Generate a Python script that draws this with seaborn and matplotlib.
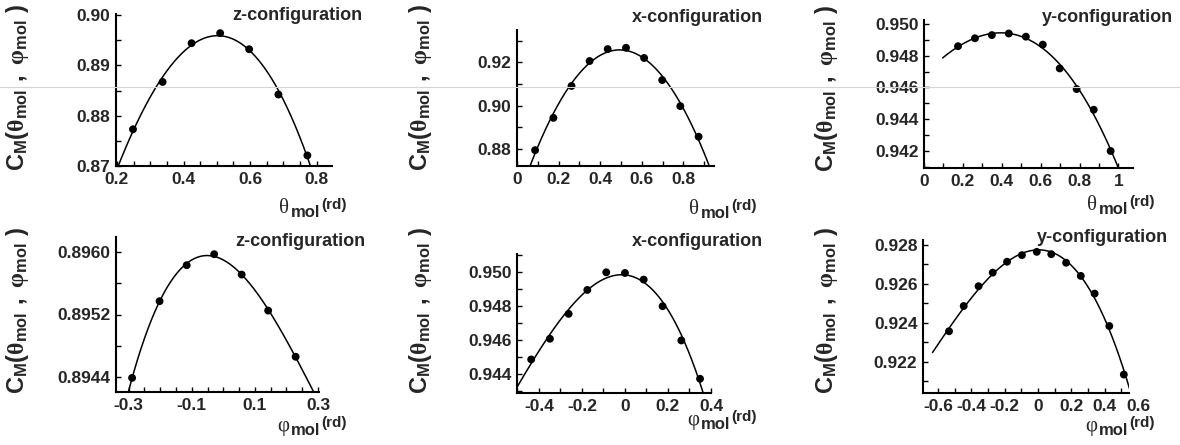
import numpy as np
import matplotlib
matplotlib.use('Agg')
import matplotlib.pyplot as plt
import seaborn as sns
from matplotlib.ticker import MultipleLocator, FixedLocator, FuncFormatter
from matplotlib.lines import Line2D

# ---- data ----
# top row: C_M versus theta_mol
z_theta = [0.248, 0.337, 0.424, 0.510, 0.597, 0.685, 0.772]
z_theta_cm = [0.8773, 0.8867, 0.8944, 0.8964, 0.8932, 0.8842, 0.8721]

x_theta = [0.087, 0.175, 0.262, 0.349, 0.436, 0.524, 0.611, 0.698, 0.785, 0.873]
x_theta_cm = [0.8795, 0.8944, 0.9091, 0.9206, 0.9261, 0.9267, 0.9220, 0.9118, 0.8998, 0.8857]

y_theta = [0.175, 0.262, 0.349, 0.436, 0.524, 0.611, 0.698, 0.785, 0.873, 0.960]
y_theta_cm = [0.9486, 0.9491, 0.9493, 0.9494, 0.9492, 0.9487, 0.9472, 0.9459, 0.9446, 0.9420]

# bottom row: C_M versus phi_mol
z_phi = [-0.289, -0.202, -0.116, -0.029, 0.058, 0.142, 0.229]
z_phi_cm = [0.89439, 0.89537, 0.89583, 0.89597, 0.89571, 0.89525, 0.89466]

x_phi = [-0.436, -0.349, -0.262, -0.175, -0.087, 0.0, 0.087, 0.175, 0.262, 0.349]
x_phi_cm = [0.94486, 0.94608, 0.94755, 0.94896, 0.9500, 0.94996, 0.94957, 0.9480, 0.94598, 0.94372]

y_phi = [-0.534, -0.446, -0.357, -0.272, -0.186, -0.097, -0.008, 0.079, 0.168, 0.256, 0.339, 0.427, 0.514]
y_phi_cm = [0.92356, 0.92486, 0.92588, 0.92658, 0.92714, 0.92748, 0.92765, 0.92753, 0.92709, 0.92641, 0.9255, 0.92383, 0.92133]

titles = ['z-configuration', 'x-configuration', 'y-configuration',
          'z-configuration', 'x-configuration', 'y-configuration']

sns.set_style('ticks')
plt.rcParams['font.family'] = ['Liberation Sans', 'DejaVu Sans']
plt.rcParams['font.weight'] = 'bold'
plt.rcParams['mathtext.fontset'] = 'custom'
plt.rcParams['mathtext.rm'] = 'Liberation Serif'
plt.rcParams['mathtext.bf'] = 'Liberation Sans:bold'
plt.rcParams['mathtext.it'] = 'Liberation Sans:bold'

W, H = 1180, 445
fig = plt.figure(figsize=(W / 100, H / 100), dpi=100)
renderer = fig.canvas.get_renderer()


def px(x, y):
    return x / W, 1 - y / H


def fmt(dec):
    def f(v, pos):
        if abs(v) < 1e-9:
            return '0'
        if abs(v - 1) < 1e-9:
            return '1'
        return f'{v:.{dec}f}'
    return FuncFormatter(f)


def xlabel(x_end, base, sym):
    # built right to left: (rd), then the mol subscript, then the greek letter
    t = fig.text(*px(x_end, base - 8), '(rd)', ha='right', va='baseline', fontsize=11, fontweight='bold')
    x = t.get_window_extent(renderer).x0 - 1
    t = fig.text(*px(x, base), 'mol', ha='right', va='baseline', fontsize=12, fontweight='bold')
    x = t.get_window_extent(renderer).x0 - 2
    fig.text(*px(x, base - 4), sym, ha='right', va='baseline', fontsize=15,
             family='Liberation Serif', fontweight='normal')


# panel layout in pixels: left, top, right, bottom
panels = [
    dict(xs=z_theta, ys=z_theta_cm, box=(116, 14, 332, 166), xlim=(0.197, 0.846), ylim=(0.8700, 0.9002),
         xmaj=[0.2, 0.4, 0.6, 0.8], xmin=0.05, ymaj=0.01, ymin=0.005, ydec=2,
         curve=(0.197, 0.80), deg=3, ylab=(18, 87), title=(362, 15), xlab=(347, 217), sym='θ'),
    dict(xs=x_theta, ys=x_theta_cm, box=(517, 30, 714, 166), xlim=(0.0, 0.947), ylim=(0.8722, 0.9349),
         xmaj=[0.0, 0.2, 0.4, 0.6, 0.8], xmin=0.1, ymaj=0.02, ymin=0.01, ydec=2,
         curve=(0.05, 0.93), deg=2, ylab=(420, 87), title=(763, 17), xlab=(757, 218), sym='θ'),
    dict(xs=y_theta, ys=y_theta_cm, box=(924, 20, 1133, 168), xlim=(0.0, 1.075), ylim=(0.94093, 0.95025),
         xmaj=[0.0, 0.2, 0.4, 0.6, 0.8, 1.0], xmin=0.1, ymaj=0.002, ymin=0.001, ydec=3,
         curve=(0.096, 1.0), deg=3, ylab=(827, 88), title=(1173, 18), xlab=(1155, 214), sym='θ'),
    dict(xs=z_phi, ys=z_phi_cm, box=(116, 237, 319, 392), xlim=(-0.34, 0.303), ylim=(0.89421, 0.89619),
         xmaj=[-0.3, -0.1, 0.1, 0.3], xmin=0.05, ymaj=0.0008, ymin=0.0004, ydec=4,
         curve=(-0.31, 0.29), deg=3, ylab=(18, 310), title=(365, 241), xlab=(347, 435), sym='φ'),
    dict(xs=x_phi, ys=x_phi_cm, box=(517, 254, 711, 393), xlim=(-0.502, 0.4), ylim=(0.94288, 0.95108),
         xmaj=[-0.4, -0.2, 0.0, 0.2, 0.4], xmin=0.1, ymaj=0.002, ymin=0.001, ydec=3,
         curve=(-0.507, 0.38), deg=3, ylab=(420, 310), title=(763, 242), xlab=(757, 429), sym='φ'),
    dict(xs=y_phi, ys=y_phi_cm, box=(923, 240, 1129, 393), xlim=(-0.69, 0.545), ylim=(0.92038, 0.92826),
         xmaj=[-0.6, -0.4, -0.2, 0.0, 0.2, 0.4], xmin=0.1, ymaj=0.002, ymin=0.001, ydec=3,
         curve=(-0.633, 0.56), deg=3, ylab=(827, 310), title=(1168, 237), xlab=(1155, 435), sym='φ'),
]

ylab_txt = r'$\mathbf{C_M(}\mathrm{θ}_{\mathbf{mol}}\mathbf{\ ,\ }\mathrm{φ}_{\mathbf{mol}}\mathbf{\ )}$'

for p, title in zip(panels, titles):
    l, t, r, b = p['box']
    x0, y0 = px(l, b)
    ax = fig.add_axes([x0, y0, (r - l) / W, (b - t) / H])

    # fitted curve from the plotted points
    coef = np.polyfit(p['xs'], p['ys'], p['deg'])
    xc = np.linspace(p['curve'][0], p['curve'][1], 300)
    sns.lineplot(x=xc, y=np.polyval(coef, xc), ax=ax, color='black', lw=1.1, sort=False)
    sns.scatterplot(x=p['xs'], y=p['ys'], ax=ax, color='black', s=32, edgecolor='none', zorder=3)

    ax.set_xlim(p['xlim'])
    ax.set_ylim(p['ylim'])
    sns.despine(ax=ax)
    for s in ['left', 'bottom']:
        ax.spines[s].set_linewidth(1.5)
        ax.spines[s].set_color('black')

    ax.xaxis.set_major_locator(FixedLocator(p['xmaj']))
    ax.xaxis.set_minor_locator(MultipleLocator(p['xmin']))
    ax.yaxis.set_major_locator(MultipleLocator(p['ymaj']))
    ax.yaxis.set_minor_locator(MultipleLocator(p['ymin']))
    ax.xaxis.set_major_formatter(fmt(1))
    ax.yaxis.set_major_formatter(fmt(p['ydec']))
    ax.tick_params(which='both', direction='in', length=3.5, width=1, color='black')
    ax.tick_params(axis='both', which='major', labelsize=12.5, pad=4)
    for lab in ax.get_xticklabels() + ax.get_yticklabels():
        lab.set_fontweight('bold')

    fig.text(*px(*p['ylab']), ylab_txt, rotation=90, ha='center', va='center', fontsize=17)
    fig.text(*px(*p['title']), title, ha='right', va='center', fontsize=13, fontweight='bold')
    xlabel(p['xlab'][0], p['xlab'][1], p['sym'])

# the 0.6 label sits just past the end of the last x axis
ax.annotate('0.6', xy=(0.6, 0), xycoords=('data', 'axes fraction'), xytext=(0, -4),
            textcoords='offset points', ha='center', va='top', fontsize=12.5,
            fontweight='bold', annotation_clip=False)

# faint horizontal scan line across the top row
fig.add_artist(Line2D([0, 1], [1 - 87 / H, 1 - 87 / H], color='#d4d4d4', lw=0.8, zorder=10))

fig.savefig('out.png', dpi=100)
